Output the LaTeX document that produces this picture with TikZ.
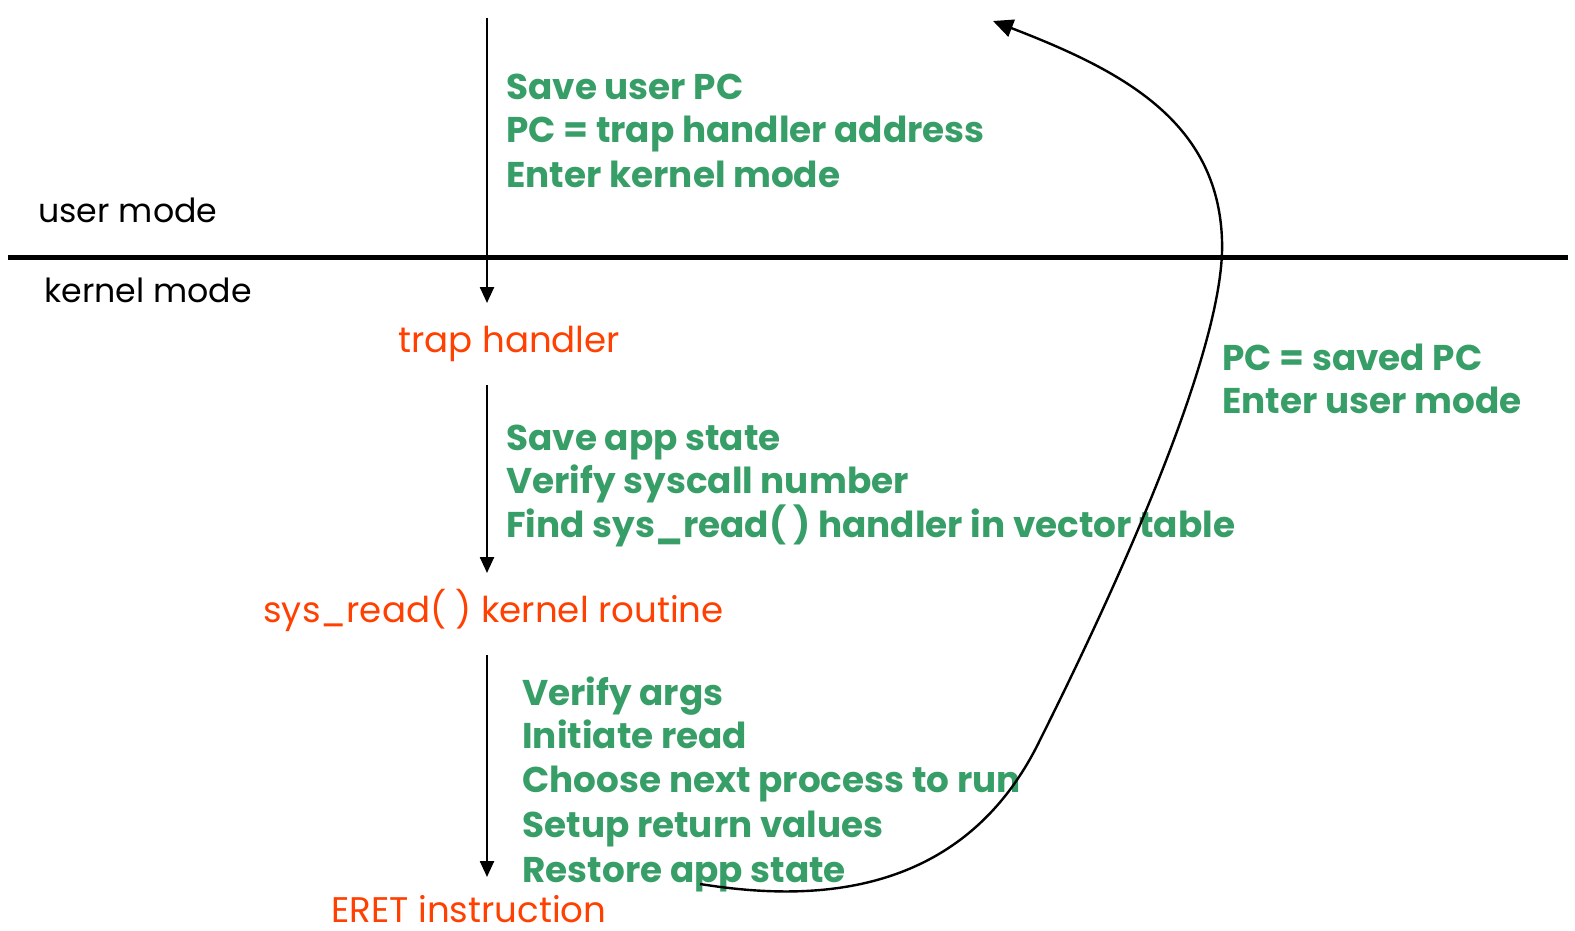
\documentclass[tikz,border=0pt]{standalone}
\usepackage{fontspec}
\setmainfont{Poppins}
\usetikzlibrary{arrows.meta}
\definecolor{tgreen}{RGB}{56,158,104}
\definecolor{tred}{RGB}{255,64,0}
\begin{document}
\begin{tikzpicture}[x=0.5pt,y=-0.5pt,
  gtext/.style={anchor=base west,inner sep=0pt,text=tgreen,font=\fontsize{17.9}{22}\selectfont\bfseries},
  rtext/.style={anchor=base west,inner sep=0pt,text=tred,font=\fontsize{17.8}{22}\selectfont},
  ktext/.style={anchor=base west,inner sep=0pt,text=black,font=\fontsize{16.6}{22}\selectfont},
  flow/.style={draw=black,line width=1.2pt,-{Triangle[length=8pt,width=7pt]}},
  ret/.style={draw=black,line width=1.2pt,-{Triangle[length=10pt,width=9pt]}}]
\useasboundingbox (0,0) rectangle (1575,931);
% divider
\draw[line width=2.5pt] (8,257) -- (1568,257);
\node[ktext] (um) at (38,222) {user mode};
\node[ktext] (km) at (44,302) {kernel mode};
% flow
\coordinate (s0) at (487,18);
\node[rtext] (th) at (398,352) {trap handler};
\node[rtext] (sr) at (263,622) {sys\_read( ) kernel routine};
\node[rtext] (er) at (331,922) {ERET instruction};
\coordinate (a1e) at (487,303);
\coordinate (a2s) at (487,385);
\coordinate (a2e) at (487,573);
\coordinate (a3s) at (487,655);
\coordinate (a3e) at (487,877);
\draw[flow] (s0) -- (a1e);
\draw[flow] (a2s) -- (a2e);
\draw[flow] (a3s) -- (a3e);
% green block 1
\node[gtext] (g11) at (506,100) {Save user PC};
\node[gtext] (g12) at (506,143) {PC = trap handler address};
\node[gtext] (g13) at (506,187) {Enter kernel mode};
% block 2
\node[gtext] (g21) at (506,450) {Save app state};
\node[gtext] (g22) at (506,493) {Verify syscall number};
\node[gtext] (g23) at (506,537) {Find sys\_read( ) handler in vector table};
% block 3
\node[gtext] (g31) at (522,705) {Verify args};
\node[gtext] (g32) at (522,748) {Initiate read};
\node[gtext] (g33) at (522,792) {Choose next process to run};
\node[gtext] (g34) at (522,837) {Setup return values};
\node[gtext] (g35) at (522,882) {Restore app state};
% block 4
\node[gtext] (g41) at (1222,370) {PC = saved PC};
\node[gtext] (g42) at (1222,413) {Enter user mode};
% return curve
\coordinate (rs) at (700,884);
\coordinate (re) at (993,21);
\draw[ret] (rs) .. controls (800,900) and (960,905) .. (1040,740)
  .. controls (1130,560) and (1226,340) .. (1222,240)
  .. controls (1218,120) and (1120,70) .. (re);
\end{tikzpicture}
\end{document}
